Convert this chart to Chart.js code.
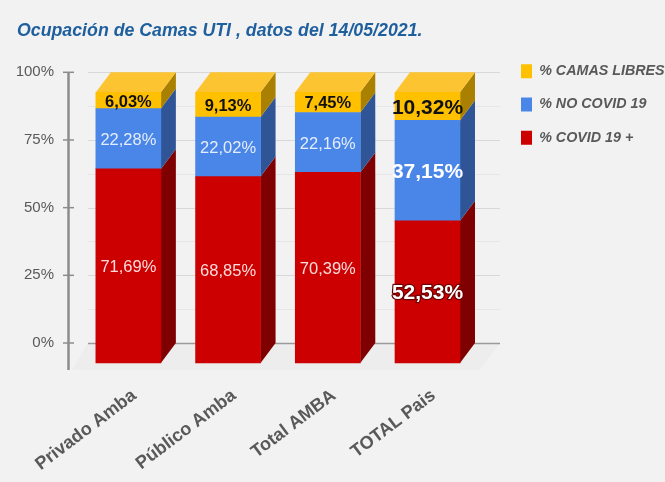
<!DOCTYPE html>
<html><head><meta charset="utf-8">
<style>html,body{margin:0;padding:0;background:#f2f2f2;overflow:hidden}canvas{display:block;filter:blur(.55px)}</style>
<script src="https://cdn.jsdelivr.net/npm/chart.js@4/dist/chart.umd.min.js"></script>
</head><body><canvas id="c" width="665" height="482"></canvas>
<script>
const categories = ['Privado Amba','Público Amba','Total AMBA','TOTAL Pais'];
const covid = [71.69,68.85,70.39,52.53];
const noCovid = [22.28,22.02,22.16,37.15];
const libres = [6.03,9.13,7.45,10.32];
const yTicks = [0,25,50,75,100];
const gridValues = [0,12.5,25,37.5,50,62.5,75,87.5,100];
const DX = 15, DY = 20;
const FONT = '"Liberation Sans", Arial, sans-serif';
const sideColors = ['#7f0000','#2f5597','#a98000'];
const topColor = '#fdc431';
const labelColors = ['#ffdcdc','#e4edfb','#111111'];

const threeD = {
  id:'threeD',
  beforeDraw(chart){
    const {ctx, scales:{y}} = chart;
    const x0 = 88, x1 = 500, yb = y.getPixelForValue(0);
    ctx.save();
    ctx.fillStyle = '#ededed';
    ctx.beginPath();
    ctx.moveTo(x0,yb); ctx.lineTo(x1,yb); ctx.lineTo(x1-DX-5,yb+DY+7); ctx.lineTo(x0-DX-1,yb+DY+7);
    ctx.closePath(); ctx.fill();
    gridValues.forEach(v=>{
      const p = Math.round(y.getPixelForValue(v))+.5;
      ctx.strokeStyle = v===0 ? '#9a9a9a' : (v%25===0 ? '#d8d8d8' : '#e6e6e6');
      ctx.lineWidth = v===0 ? 1.5 : 1;
      ctx.beginPath(); ctx.moveTo(x0,p); ctx.lineTo(x1,p); ctx.stroke();
    });
    ctx.strokeStyle = '#8c8c8c';
    ctx.lineWidth = 2.5;
    ctx.beginPath(); ctx.moveTo(68.5,y.getPixelForValue(100)); ctx.lineTo(68.5,yb+27); ctx.stroke();
    ctx.lineWidth = 1.5;
    yTicks.forEach(v=>{
      const p = y.getPixelForValue(v);
      ctx.beginPath(); ctx.moveTo(63,p); ctx.lineTo(74,p); ctx.stroke();
    });
    ctx.restore();
  },
  beforeDatasetsDraw(chart){
    const {ctx} = chart;
    ctx.save();
    ctx.translate(-DX,DY);
    chart.data.datasets.forEach((ds,i)=>{
      chart.getDatasetMeta(i).data.forEach(b=>{
        const r = b.x+b.width/2, l = b.x-b.width/2;
        ctx.fillStyle = sideColors[i];
        ctx.beginPath();
        ctx.moveTo(r,b.y); ctx.lineTo(r+DX,b.y-DY); ctx.lineTo(r+DX,b.base-DY); ctx.lineTo(r,b.base);
        ctx.closePath(); ctx.fill();
        if(i===chart.data.datasets.length-1){
          ctx.fillStyle = topColor;
          ctx.beginPath();
          ctx.moveTo(l,b.y); ctx.lineTo(l+DX,b.y-DY); ctx.lineTo(r+DX,b.y-DY); ctx.lineTo(r,b.y);
          ctx.closePath(); ctx.fill();
        }
      });
    });
  },
  afterDatasetsDraw(chart){
    const {ctx} = chart;
    chart.data.datasets.forEach((ds,i)=>{
      chart.getDatasetMeta(i).data.forEach((b,j)=>{
        const big = j===3;
        const text = ds.data[j].toFixed(2).replace('.',',')+'%';
        ctx.font = (big||i===2 ? 'bold ':'')+(big?21:16.5)+'px '+FONT;
        ctx.textAlign='center'; ctx.textBaseline='middle';
        const cy=(b.y+b.base)/2+1.5;
        if(big && i===0){ ctx.strokeStyle='#6d0000'; ctx.lineWidth=2.5; ctx.lineJoin='round'; ctx.strokeText(text,b.x,cy); }
        ctx.fillStyle = big && i<2 ? '#ffffff' : labelColors[i];
        ctx.fillText(text,b.x,cy);
      });
    });
    ctx.restore();
  },
  afterLayout(chart){
    const lg = chart.legend;
    const w = lg.right-lg.left;
    lg.left = 502; lg.right = lg.left+w; lg.top = 45; lg.bottom = 482;
  }
};

new Chart(document.getElementById('c'),{
  type:'bar',
  plugins:[threeD],
  data:{labels:categories,datasets:[
    {label:'% COVID 19 +',data:covid,backgroundColor:'#cc0000',clip:false},
    {label:'% NO COVID 19',data:noCovid,backgroundColor:'#4a86e8',clip:false},
    {label:'% CAMAS LIBRES',data:libres,backgroundColor:'#ffc000',clip:false}
  ]},
  options:{
    responsive:false,animation:false,
    layout:{padding:{left:17,right:0,top:0,bottom:0},autoPadding:false},
    datasets:{bar:{barThickness:65}},
    scales:{
      x:{stacked:true,
        grid:{display:false,drawTicks:false},border:{display:false},
        ticks:{font:{family:FONT,size:18,weight:'bold'},color:'#595959',minRotation:37,maxRotation:37,padding:42,labelOffset:-9,autoSkip:false},
        afterFit(s){s.height=139;s.paddingLeft=0;s.paddingRight=0;}},
      y:{stacked:true,min:0,max:100,
        grid:{display:false,drawTicks:false},border:{display:false},
        ticks:{stepSize:25,font:{family:FONT,size:15},color:'#595959',padding:39.5,callback:v=>v+'%'},
        afterFit(s){s.width=76.5;s.paddingTop=0;s.paddingBottom=0;}}
    },
    plugins:{
      title:{display:true,align:'start',text:'Ocupación de Camas UTI , datos del 14/05/2021.',
        color:'#1f5f9e',font:{family:FONT,size:17.75,weight:'bold',style:'italic',lineHeight:1.2},padding:{top:20,bottom:31}},
      legend:{position:'right',align:'start',reverse:true,maxWidth:176,
        labels:{boxWidth:11,boxHeight:14,padding:19,color:'#595959',font:{family:FONT,size:14.3,weight:'bold',style:'italic'}}},
      tooltip:{enabled:false}
    }
  }
});
</script></body></html>
